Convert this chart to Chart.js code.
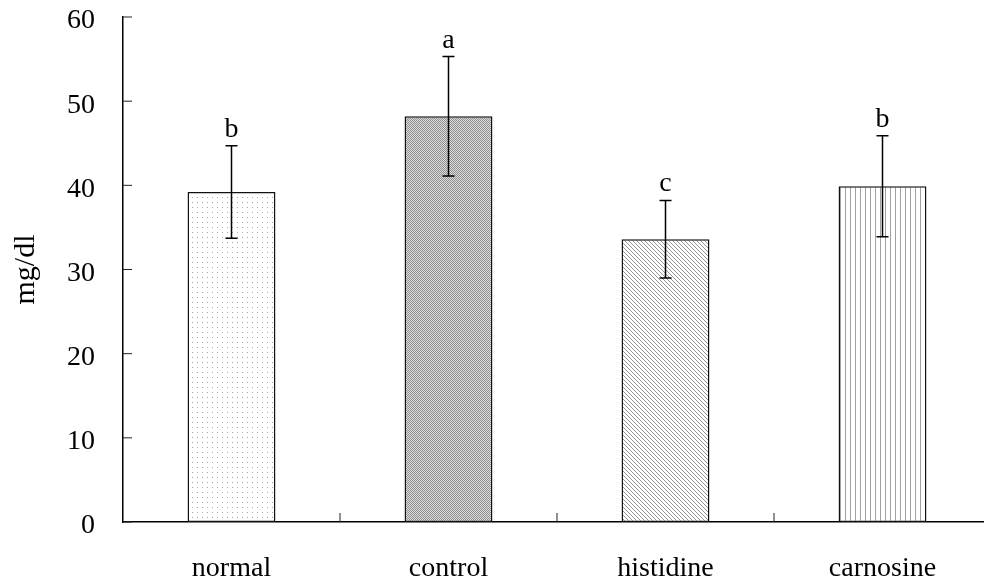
<!DOCTYPE html>
<html>
<head>
<meta charset="utf-8">
<script src="https://cdn.jsdelivr.net/npm/chart.js@4.4.1/dist/chart.umd.min.js"></script>
<style>
  html, body { margin: 0; padding: 0; background: #fff; overflow: hidden; }
  #wrap { width: 992px; height: 586px; }
</style>
</head>
<body>
<div id="wrap"><canvas id="chart" width="992" height="586"></canvas></div>
<script>
// Data
const groups = ["normal", "control", "histidine", "carnosine"];
const means = [39.2, 48.2, 33.6, 39.9];
const errors = [5.5, 7.1, 4.6, 6.0];
const letters = ["b", "a", "c", "b"];
const yTicks = [0, 10, 20, 30, 40, 50, 60];

const FONT = "'Liberation Serif', 'Times New Roman', serif";
Chart.defaults.color = "#000";
Chart.defaults.font.family = FONT;

const canvas = document.getElementById("chart");
const ctx = canvas.getContext("2d");

// Small tiles for the hatch fills
function makePattern(w, h, paint) {
  const c = document.createElement("canvas");
  c.width = w;
  c.height = h;
  const g = c.getContext("2d");
  g.fillStyle = "#fff";
  g.fillRect(0, 0, w, h);
  paint(g);
  return ctx.createPattern(c, "repeat");
}

const dots = makePattern(5, 5, g => {
  g.fillStyle = "#a8a8a8";
  g.fillRect(2, 2, 1, 1);
});
const checker = makePattern(2, 2, g => {
  g.fillStyle = "#8e8e8e";
  g.fillRect(0, 0, 1, 1);
  g.fillRect(1, 1, 1, 1);
  g.fillStyle = "#dedede";
  g.fillRect(1, 0, 1, 1);
  g.fillRect(0, 1, 1, 1);
});
const diagonal = makePattern(4, 4, g => {
  g.fillStyle = "#959595";
  for (let i = 0; i < 4; i++) g.fillRect(i, i, 1, 1);
});
const vertical = makePattern(5, 1, g => {
  g.fillStyle = "#a0a0a0";
  g.fillRect(0, 0, 1, 1);
});

// Error bars, significance letters and the inward tick marks
const extras = {
  id: "extras",
  afterDatasetsDraw(chart) {
    const { ctx, chartArea, scales: { x, y } } = chart;
    const meta = chart.getDatasetMeta(0);
    ctx.save();
    ctx.strokeStyle = "#000";
    ctx.lineWidth = 1.5;
    meta.data.forEach((bar, i) => {
      const top = y.getPixelForValue(means[i] + errors[i]);
      const bottom = y.getPixelForValue(means[i] - errors[i]);
      ctx.beginPath();
      ctx.moveTo(bar.x, top);
      ctx.lineTo(bar.x, bottom);
      ctx.moveTo(bar.x - 6, top);
      ctx.lineTo(bar.x + 6, top);
      ctx.moveTo(bar.x - 6, bottom);
      ctx.lineTo(bar.x + 6, bottom);
      ctx.stroke();

      ctx.fillStyle = "#000";
      ctx.font = "28px " + FONT;
      ctx.textAlign = "center";
      ctx.textBaseline = "alphabetic";
      ctx.fillText(letters[i], bar.x, top - 9);
    });

    ctx.lineWidth = 1;
    ctx.strokeStyle = "#222";
    ctx.beginPath();
    yTicks.forEach(v => {
      const py = y.getPixelForValue(v);
      ctx.moveTo(chartArea.left, py);
      ctx.lineTo(chartArea.left + 9, py);
    });
    for (let i = 0; i < groups.length; i++) {
      const px = x.getPixelForValue(i + 0.5);
      ctx.moveTo(px, chartArea.bottom);
      ctx.lineTo(px, chartArea.bottom - 9);
    }
    ctx.stroke();
    ctx.restore();
  }
};

new Chart(ctx, {
  type: "bar",
  data: {
    labels: groups,
    datasets: [
      {
        data: means,
        backgroundColor: [dots, checker, diagonal, vertical],
        borderColor: "#111",
        borderWidth: 1.5,
        borderSkipped: false,
        barPercentage: 0.405,
        categoryPercentage: 1
      }
    ]
  },
  options: {
    responsive: false,
    animation: false,
    layout: { padding: { top: 17, right: 1, left: 0, bottom: 0 } },
    plugins: {
      legend: { display: false },
      tooltip: { enabled: false }
    },
    scales: {
      x: {
        grid: { display: false, drawTicks: false },
        border: { display: true, color: "#000", width: 1.5 },
        ticks: { font: { size: 28 }, padding: 30, maxRotation: 0 },
        afterFit: s => {
          s.height = 64;
          s.paddingLeft = 0;
          s.paddingRight = 0;
        }
      },
      y: {
        min: 0,
        max: 60,
        grid: { display: false, drawTicks: false },
        border: { display: true, color: "#000", width: 1.5 },
        ticks: { stepSize: 10, font: { size: 28 }, padding: 28, labelOffset: 4 },
        title: {
          display: true,
          text: "mg/dl",
          font: { size: 30 },
          padding: { top: 8, bottom: 0 }
        },
        afterFit: s => {
          s.width = 123;
          s.paddingTop = 0;
          s.paddingBottom = 0;
        }
      }
    }
  },
  plugins: [extras]
});
</script>
</body>
</html>
